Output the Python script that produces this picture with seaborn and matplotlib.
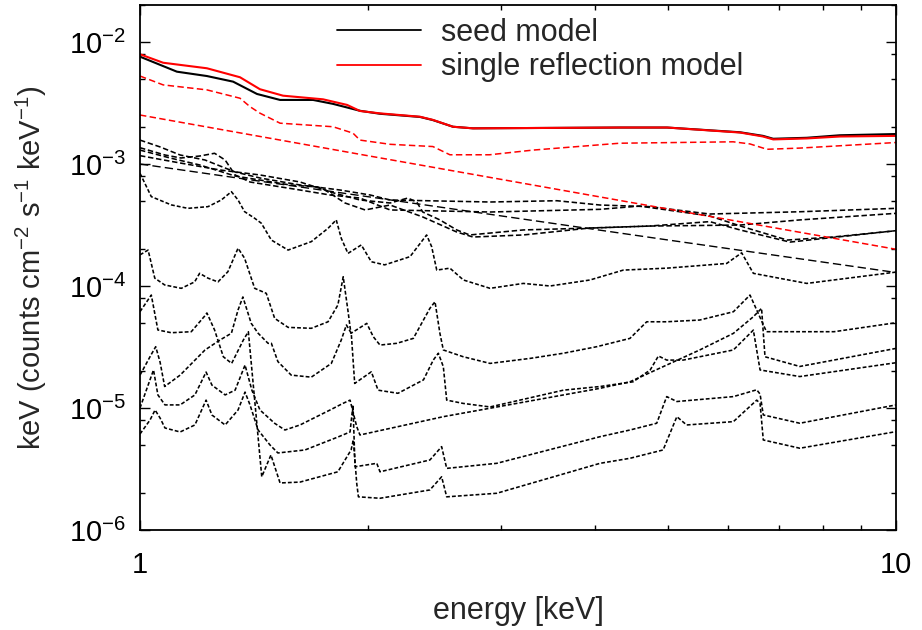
import matplotlib
matplotlib.use("Agg")
import matplotlib.pyplot as plt
import seaborn as sns
from matplotlib.lines import Line2D
from matplotlib.ticker import FixedLocator, NullFormatter

sns.set_theme(style="ticks")
plt.rcParams["font.family"] = ["Liberation Sans", "DejaVu Sans"]
plt.rcParams["mathtext.fontset"] = "custom"
plt.rcParams["mathtext.rm"] = "Liberation Sans"
plt.rcParams["mathtext.it"] = "Liberation Sans"

# ---------------- data (energy in keV, flux) ----------------
single_E = [1.0, 1.073, 1.226, 1.356, 1.441, 1.546, 1.746, 1.879, 1.954, 2.077, 2.346, 2.44, 2.594, 2.757, 4.31, 4.98, 6.22, 6.67, 6.88, 7.62, 8.43, 10.0]
single_F = [7.93e-3, 6.76e-3, 6.09e-3, 5.14e-3, 4.10e-3, 3.63e-3, 3.39e-3, 3.05e-3, 2.72e-3, 2.60e-3, 2.44e-3, 2.30e-3, 2.02e-3, 1.96e-3, 1.99e-3, 1.99e-3, 1.81e-3, 1.68e-3, 1.59e-3, 1.62e-3, 1.68e-3, 1.70e-3]

seed_E = [1.0, 1.119, 1.226, 1.328, 1.428, 1.532, 1.694, 1.80, 1.954, 2.077, 2.346, 2.44, 2.594, 2.757, 4.31, 4.98, 6.22, 6.67, 6.88, 7.62, 8.43, 10.0]
seed_F = [7.58e-3, 5.71e-3, 5.26e-3, 4.73e-3, 3.75e-3, 3.35e-3, 3.35e-3, 3.11e-3, 2.73e-3, 2.58e-3, 2.43e-3, 2.29e-3, 2.02e-3, 1.96e-3, 1.99e-3, 1.99e-3, 1.82e-3, 1.70e-3, 1.61e-3, 1.64e-3, 1.72e-3, 1.76e-3]

refl_E = [1.0, 1.073, 1.226, 1.356, 1.398, 1.441, 1.532, 1.80, 1.913, 1.954, 2.142, 2.44, 2.57, 2.90, 3.31, 4.31, 6.09, 6.41, 6.75, 7.46, 10.0]
refl_F = [5.26e-3, 4.45e-3, 4.05e-3, 3.46e-3, 2.95e-3, 2.61e-3, 2.16e-3, 2.02e-3, 1.79e-3, 1.57e-3, 1.45e-3, 1.39e-3, 1.19e-3, 1.19e-3, 1.30e-3, 1.48e-3, 1.52e-3, 1.46e-3, 1.32e-3, 1.35e-3, 1.50e-3]

pl_red_E = [1.0, 2.0, 5.0, 10.0]
pl_red_F = [2.52e-3, 1.17e-3, 4.27e-4, 2.0e-4]

pl_blk_E = [1.0, 2.0, 5.0, 10.0]
pl_blk_F = [1.0e-3, 5.4e-4, 2.38e-4, 1.29e-4]

u1_E = [1.0, 1.063, 1.13, 1.219, 1.336, 1.441, 1.628, 1.839, 2.016, 2.142, 2.904, 3.56, 4.06, 4.72, 5.67, 7.46, 10.0]
u1_F = [1.57e-3, 1.38e-3, 1.185e-3, 1.078e-3, 8.6e-4, 7.68e-4, 6.73e-4, 6.12e-4, 5.57e-4, 5.07e-4, 4.88e-4, 5.0e-4, 4.61e-4, 4.47e-4, 3.89e-4, 4.06e-4, 4.33e-4]
u2_E = [1.0, 1.079, 1.133, 1.2, 1.255, 1.296, 1.336, 1.398, 1.628, 1.784, 1.954, 2.142, 2.904, 4.06, 4.58, 5.67, 6.28, 7.18, 8.25, 10.0]
u2_F = [1.36e-3, 1.185e-3, 1.12e-3, 1.163e-3, 1.224e-3, 1.078e-3, 8.13e-4, 7.12e-4, 6.12e-4, 5.57e-4, 5.26e-4, 4.2e-4, 4.04e-4, 4.25e-4, 4.52e-4, 3.75e-4, 3.05e-4, 2.38e-4, 2.52e-4, 2.84e-4]
u3_E = [1.0, 1.096, 1.2, 1.336, 1.441, 1.579, 1.72, 1.784, 1.954, 2.142, 2.261, 2.323, 2.366, 2.493, 2.624, 2.73, 3.214, 4.06, 4.72, 6.22, 7.46, 10.0]
u3_F = [1.30e-3, 1.12e-3, 9.81e-4, 7.97e-4, 7.39e-4, 6.73e-4, 6.48e-4, 5.9e-4, 5.07e-4, 4.79e-4, 5.26e-4, 4.88e-4, 4.04e-4, 3.48e-4, 2.88e-4, 2.62e-4, 2.88e-4, 3.0e-4, 3.1e-4, 3.16e-4, 3.48e-4, 3.94e-4]
u4_E = [1.0, 1.13, 1.276, 1.441, 1.628, 1.757, 1.867, 1.985, 2.142, 2.366, 2.624, 2.757, 3.214, 3.94, 4.72, 5.67, 6.22, 7.24, 10.0]
u4_F = [1.17e-3, 1.019e-3, 8.93e-4, 8.13e-4, 7.12e-4, 6.12e-4, 4.79e-4, 4.2e-4, 4.61e-4, 3.68e-4, 2.77e-4, 2.52e-4, 2.62e-4, 2.99e-4, 3.1e-4, 3.37e-4, 2.88e-4, 2.29e-4, 2.84e-4]

c1_E = [1.0, 1.035, 1.100, 1.157, 1.230, 1.281, 1.321, 1.348, 1.375, 1.418, 1.447, 1.492, 1.570, 1.685, 1.773, 1.818, 1.846, 1.884, 1.962, 2.023, 2.107, 2.276, 2.394, 2.431, 2.469, 2.570, 2.678, 2.904, 3.214, 3.486, 3.937, 4.358, 4.974, 5.97, 6.25, 6.476, 7.62, 10.0]
c1_F = [8.39e-4, 5.40e-4, 4.62e-4, 4.33e-4, 4.47e-4, 5.07e-4, 5.93e-4, 5.07e-4, 4.07e-4, 3.59e-4, 3.27e-4, 2.38e-4, 1.97e-4, 2.31e-4, 2.97e-4, 3.48e-4, 2.46e-4, 1.85e-4, 2.17e-4, 1.58e-4, 1.49e-4, 1.74e-4, 2.62e-4, 2.10e-4, 1.35e-4, 1.40e-4, 1.12e-4, 9.57e-5, 1.05e-4, 1.0e-4, 1.12e-4, 1.35e-4, 1.40e-4, 1.53e-4, 1.87e-4, 1.27e-4, 1.05e-4, 1.30e-4]

c2_E = [1.0, 1.025, 1.046, 1.078, 1.134, 1.181, 1.199, 1.230, 1.268, 1.307, 1.348, 1.375, 1.418, 1.469, 1.507, 1.570, 1.685, 1.773, 1.827, 1.857, 1.886, 1.901, 1.995, 2.035, 2.077, 2.186, 2.299, 2.418, 2.456, 2.493, 2.519, 2.677, 2.904, 3.281, 3.631, 4.019, 4.447, 4.68, 4.974, 5.50, 6.094, 6.41, 6.543, 6.74, 8.28, 10.0]
c2_F = [1.80e-4, 1.97e-4, 1.16e-4, 1.02e-4, 9.57e-5, 1.08e-4, 1.27e-4, 1.16e-4, 1.08e-4, 1.31e-4, 2.04e-4, 1.69e-4, 9.57e-5, 8.71e-5, 5.43e-5, 4.58e-5, 4.50e-5, 5.09e-5, 6.98e-5, 1.19e-4, 5.97e-5, 4.09e-5, 4.94e-5, 3.84e-5, 3.28e-5, 3.39e-5, 3.72e-5, 6.56e-5, 7.43e-5, 4.09e-5, 2.99e-5, 2.63e-5, 2.32e-5, 2.55e-5, 2.81e-5, 3.18e-5, 3.72e-5, 5.09e-5, 5.09e-5, 5.26e-5, 6.15e-5, 8.43e-5, 6.35e-5, 4.22e-5, 4.22e-5, 5.0e-5]

# starts at ~6e-5, deep drop at 1.4 keV, lowest curve at high energy
c3_E = [1.0, 1.035, 1.056, 1.100, 1.169, 1.218, 1.226, 1.255, 1.289, 1.322, 1.370, 1.391, 1.449, 1.490, 1.532, 1.628, 1.827, 1.902, 1.915, 1.935, 1.945, 2.077, 2.418, 2.506, 2.545, 2.964, 4.06, 4.447, 4.92, 5.13, 5.285, 6.094, 6.543, 6.61, 6.675, 7.46, 10.0]
c3_F = [6.16e-5, 8.43e-5, 4.36e-5, 4.14e-5, 4.22e-5, 5.68e-5, 6.01e-5, 4.36e-5, 2.63e-5, 2.32e-5, 3.61e-5, 4.22e-5, 2.73e-6, 4.12e-6, 2.43e-6, 2.47e-6, 3.0e-6, 4.53e-6, 5.47e-6, 2.41e-6, 1.87e-6, 1.82e-6, 2.13e-6, 2.73e-6, 1.87e-6, 2.0e-6, 3.52e-6, 3.87e-6, 4.53e-6, 8.49e-6, 7.26e-6, 7.73e-6, 1.16e-5, 1.09e-5, 5.47e-6, 4.68e-6, 6.4e-6]

# starts at ~1.9e-5, rises diagonally, ends at ~2.35e-5
c4_E = [1.0, 1.034, 1.049, 1.063, 1.078, 1.130, 1.219, 1.276, 1.321, 1.348, 1.368, 1.403, 1.433, 1.477, 1.492, 1.522, 1.585, 1.685, 1.791, 1.846, 1.875, 1.903, 1.923, 2.023, 2.065, 2.194, 2.371, 2.443, 2.481, 2.519, 2.545, 2.677, 2.904, 3.631, 4.06, 4.49, 4.73, 4.85, 4.974, 5.23, 6.094, 6.476, 6.61, 7.46, 10.0]
c4_F = [1.86e-5, 2.72e-5, 3.18e-5, 2.38e-5, 1.50e-5, 1.86e-5, 2.99e-5, 3.61e-5, 4.10e-5, 6.36e-5, 8.13e-5, 4.95e-5, 4.10e-5, 3.39e-5, 3.39e-5, 2.40e-5, 1.86e-5, 1.79e-5, 2.32e-5, 3.61e-5, 4.79e-5, 4.10e-5, 1.59e-5, 1.98e-5, 1.40e-5, 1.32e-5, 1.70e-5, 2.47e-5, 2.81e-5, 2.18e-5, 1.16e-5, 1.09e-5, 1.02e-5, 1.40e-5, 1.50e-5, 1.64e-5, 2.05e-5, 2.67e-5, 2.47e-5, 2.47e-5, 2.99e-5, 4.35e-5, 2.05e-5, 1.81e-5, 2.35e-5]

# starts at 1e-5, ends at ~3.1e-5
c5_E = [1.0, 1.025, 1.042, 1.056, 1.079, 1.130, 1.182, 1.223, 1.245, 1.296, 1.336, 1.377, 1.406, 1.441, 1.507, 1.555, 1.628, 1.730, 1.784, 1.855, 1.896, 1.935, 1.954, 2.519, 4.06, 4.447, 4.974, 5.5, 6.094, 6.476, 6.64, 6.71, 7.46, 10.0]
c5_F = [1.0e-5, 1.54e-5, 2.05e-5, 1.28e-5, 1.06e-5, 1.06e-5, 1.28e-5, 1.97e-5, 1.54e-5, 1.28e-5, 1.40e-5, 2.25e-5, 1.40e-5, 9.63e-6, 7.49e-6, 6.6e-6, 7.26e-6, 8.76e-6, 9.63e-6, 1.09e-5, 1.16e-5, 7.03e-6, 6.01e-6, 8.49e-6, 1.45e-5, 1.64e-5, 2.25e-5, 2.99e-5, 4.09e-5, 5.6e-5, 6.56e-5, 2.63e-5, 2.19e-5, 3.08e-5]

# starts at 6e-6, ends at ~1.06e-5
c6_E = [1.0, 1.031, 1.047, 1.063, 1.079, 1.130, 1.182, 1.223, 1.245, 1.296, 1.348, 1.377, 1.398, 1.433, 1.486, 1.522, 1.653, 1.827, 1.896, 1.913, 1.925, 2.057, 2.077, 2.418, 2.506, 2.545, 2.964, 4.06, 4.447, 4.825, 4.974, 5.13, 6.094, 6.543, 6.61, 6.675, 7.46, 10.0]
c6_F = [6.12e-6, 7.97e-6, 9.63e-6, 8.28e-6, 6.86e-6, 6.36e-6, 7.26e-6, 1.16e-5, 8.76e-6, 7.26e-6, 9.63e-6, 1.35e-5, 1.06e-5, 6.6e-6, 4.97e-6, 4.28e-6, 4.53e-6, 5.78e-6, 6.36e-6, 1.06e-5, 3.30e-6, 3.52e-6, 3.0e-6, 3.75e-6, 4.82e-6, 3.20e-6, 3.52e-6, 5.82e-6, 6.6e-6, 7.5e-6, 1.24e-5, 1.13e-5, 1.24e-5, 1.41e-5, 1.3e-5, 8.77e-6, 7.5e-6, 1.06e-5]

x_ticks = [1, 10]
x_ticklabels = ["1", "10"]
y_ticks = [1e-6, 1e-5, 1e-4, 1e-3, 1e-2]
y_exponents = ["-6", "-5", "-4", "-3", "-2"]
legend_labels = ["seed model", "single reflection model"]

# ---------------- figure ----------------
fig = plt.figure(figsize=(9.22, 6.30), dpi=100)
ax = fig.add_axes([140 / 922, 100 / 630, 756 / 922, 525 / 630])

RED = "#ff0000"
dash_u = (0, (3.4, 1.7))
dash_c = (0, (2.4, 1.3))

def draw(E, F, color, ls, lw):
    sns.lineplot(x=E, y=F, ax=ax, color=color, linestyle=ls, linewidth=lw,
                 estimator=None, sort=False, legend=False)

for E, F in [(u1_E, u1_F), (u2_E, u2_F), (u3_E, u3_F), (u4_E, u4_F)]:
    draw(E, F, "black", dash_u, 1.15)
for E, F in [(c1_E, c1_F), (c2_E, c2_F), (c3_E, c3_F), (c4_E, c4_F),
             (c5_E, c5_F), (c6_E, c6_F)]:
    draw(E, F, "black", dash_c, 1.15)
draw(pl_blk_E, pl_blk_F, "black", (0, (6, 3)), 1.0)
draw(refl_E, refl_F, RED, (0, (4.2, 2.2)), 1.1)
draw(pl_red_E, pl_red_F, RED, (0, (4.2, 2.2)), 1.1)
draw(seed_E, seed_F, "black", "-", 1.5)
draw(single_E, single_F, RED, "-", 1.5)

ax.set_xscale("log")
ax.set_yscale("log")
ax.set_xlim(1, 10)
ax.set_ylim(1e-6, 2.01e-2)

ax.xaxis.set_major_locator(FixedLocator(x_ticks))
ax.set_xticklabels(x_ticklabels)
ax.xaxis.set_minor_locator(FixedLocator([2, 3, 4, 5, 6, 7, 8, 9]))
ax.xaxis.set_minor_formatter(NullFormatter())

ax.yaxis.set_major_locator(FixedLocator(y_ticks))
ax.set_yticklabels([r"$\mathregular{10^{%s}}$" % e for e in y_exponents])
minor_y = [m * d for d in [1e-6, 1e-5, 1e-4, 1e-3] for m in (2, 5, 8)] + [2e-2]
ax.yaxis.set_minor_locator(FixedLocator(minor_y))
ax.yaxis.set_minor_formatter(NullFormatter())

ax.tick_params(which="both", direction="in", top=True, right=True, colors="black")
ax.tick_params(which="major", length=7, width=1.0, labelsize=21)
ax.tick_params(which="minor", length=3.5, width=1.0)
ax.tick_params(axis="y", which="major", pad=10)
ax.tick_params(axis="x", which="major", pad=15)
for s in ax.spines.values():
    s.set_linewidth(1.3)
    s.set_color("black")

ax.set_xlabel("energy [keV]", fontsize=22, labelpad=12)
ax.set_ylabel(r"keV (counts cm$\mathregular{^{-2}}$ s$\mathregular{^{-1}}$ keV$\mathregular{^{-1}}$)",
              fontsize=21, labelpad=14)

handles = [Line2D([], [], color="black", lw=1.3), Line2D([], [], color=RED, lw=1.3)]
ax.legend(handles, legend_labels, loc="upper left",
          bbox_to_anchor=(0.2606, 0.976), frameon=False, fontsize=22,
          handlelength=2.75, handletextpad=0.65, labelspacing=0.16,
          borderpad=0, borderaxespad=0)

fig.savefig("out.png", dpi=100)
